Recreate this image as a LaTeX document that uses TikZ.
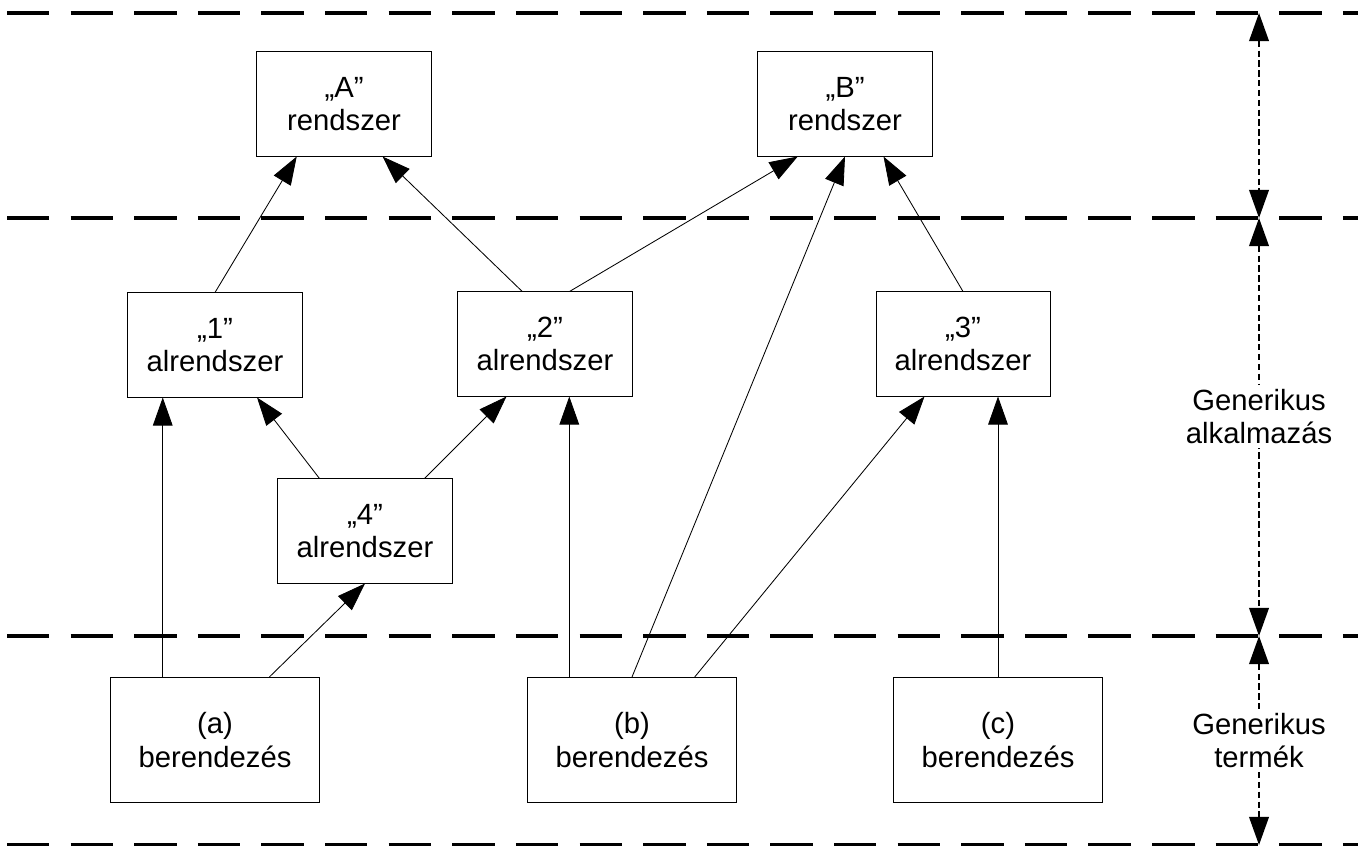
\documentclass[tikz,border=0pt]{standalone}
\usepackage{fontspec}
\setmainfont{Liberation Sans}
\usetikzlibrary{arrows.meta}
\usetikzlibrary{calc}

\tikzset{
	subsys/.style={draw, line width=0.7pt, minimum width=4.35cm, minimum height=2.6cm, inner sep=0pt, align=center, font=\fontsize{20.8}{24}\selectfont},
	devbox/.style={subsys, minimum width=5.2cm, minimum height=3.125cm},
	conn/.style={line width=0.6pt, -{Triangle[length=20pt,width=14pt]}},
	tierline/.style={line width=2.5pt, dash pattern=on 1.06cm off 0.53cm},
	tierspan/.style={line width=1.2pt, dash pattern=on 4.5pt off 2.5pt, {Triangle[length=20pt,width=14pt]}-{Triangle[length=20pt,width=14pt]}},
	tierlabel/.style={fill=white, inner sep=3pt, align=center, font=\fontsize{20.8}{24}\selectfont}
}

\begin{document}
\begin{tikzpicture}[x=0.025cm,y=-0.025cm]
	\useasboundingbox (0,0) rectangle (1358,846);

	%Tier lines
	\foreach \ty in {13,218,636,845}
		\draw[tierline] (7,\ty) -- (1400,\ty);

	%Systems
	\node[subsys] (A) at (344,104) {„A”\\rendszer};
	\node[subsys] (B) at (845,104) {„B”\\rendszer};

	%Subsystems
	\node[subsys] (s1) at (215,345) {„1”\\alrendszer};
	\node[subsys] (s2) at (545,344) {„2”\\alrendszer};
	\node[subsys] (s3) at (963,344) {„3”\\alrendszer};
	\node[subsys] (s4) at (365,531) {„4”\\alrendszer};

	%Devices
	\node[devbox] (da) at (215,740) {(a)\\berendezés};
	\node[devbox] (db) at (632,740) {(b)\\berendezés};
	\node[devbox] (dc) at (998,740) {(c)\\berendezés};

	%Vertical links
	\coordinate (va) at ($(da.north west)!.25!(da.north east)$);
	\coordinate (vb) at ($(db.north west)!.2!(db.north east)$);
	\draw[conn] (va) -- (va |- s1.south);
	\draw[conn] (vb) -- (vb |- s2.south);
	\draw[conn] (dc.north) -- (dc.north |- s3.south);

	%Slanted links
	\foreach \src/\sf/\dst/\df in {da/.76/s4/.5, s4/.24/s1/.74, s4/.84/s2/.28,
			s1/.5/A/.23, s2/.37/A/.72, s2/.64/B/.23, db/.5/B/.5, db/.8/s3/.28, s3/.5/B/.72}
		\draw[conn] ($(\src.north west)!\sf!(\src.north east)$) -- ($(\dst.south west)!\df!(\dst.south east)$);

	%Tier spans
	\coordinate (t0) at (1259,13);
	\coordinate (t1) at (1259,218);
	\coordinate (t2) at (1259,636);
	\coordinate (t3) at (1259,845);
	\draw[tierspan] (t0) -- (t1);
	\draw[tierspan] (t1) -- node[pos=.475, tierlabel] {Generikus\\alkalmazás} (t2);
	\draw[tierspan] (t2) -- node[midway, tierlabel] {Generikus\\termék} (t3);
\end{tikzpicture}
\end{document}
